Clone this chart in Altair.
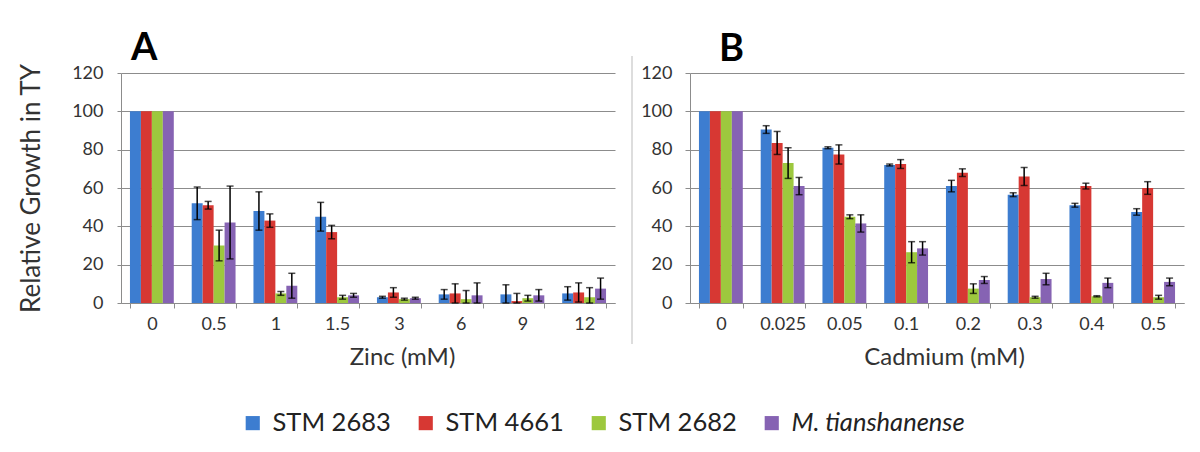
import altair as alt
import pandas as pd

strains = ["STM 2683", "STM 4661", "STM 2682", "M. tianshanense"]
colors = ["#3d7dd0", "#d73833", "#9dc83e", "#8663b3"]

zinc_conc = ["0", "0.5", "1", "1.5", "3", "6", "9", "12"]
zinc_2683 = [100, 52, 48, 45, 3, 4.5, 4.5, 5]
zinc_2683_err = [0, 8.5, 10, 7.5, 0.5, 2.5, 5, 3.5]
zinc_4661 = [100, 51, 43, 37, 5.5, 5, 1, 5.5]
zinc_4661_err = [0, 2, 3.5, 3.5, 2.5, 5, 4, 5]
zinc_2682 = [100, 30, 5, 3, 2, 2, 2.5, 3]
zinc_2682_err = [0, 8, 1, 1, 0.5, 4.5, 1.5, 5]
zinc_mt = [100, 42, 9, 4, 2.5, 4, 4, 7.5]
zinc_mt_err = [0, 19, 6.5, 1, 0.5, 6.5, 3, 5.5]

cd_conc = ["0", "0.025", "0.05", "0.1", "0.2", "0.3", "0.4", "0.5"]
cd_2683 = [100, 90.5, 81, 72, 61, 56.5, 51, 47.5]
cd_2683_err = [0, 2, 0.5, 0.5, 3, 1, 1, 1.7]
cd_4661 = [100, 83.5, 77.5, 72.5, 68, 66, 61, 60]
cd_4661_err = [0, 6, 5, 2.3, 2, 4.7, 1.5, 3.3]
cd_2682 = [100, 73, 45, 26.5, 7.5, 3, 3.5, 3]
cd_2682_err = [0, 8, 1, 5.5, 2.5, 0.5, 0.3, 1]
cd_mt = [100, 61, 41.5, 28.5, 12, 12.5, 10.5, 11]
cd_mt_err = [0, 4.5, 4.5, 3.5, 1.8, 3, 2.5, 2]

FONT = "Lato"
GRAY = "#8c8c8c"
TXT = "#333333"
W = 494
H = 230


def make_df(conc, series, errs):
    rows = []
    for s, vals, es in zip(strains, series, errs):
        for c, v, e in zip(conc, vals, es):
            rows.append({"conc": c, "strain": s, "value": v,
                         "lo": max(v - e, 0), "hi": v + e})
    return pd.DataFrame(rows)


def panel(conc, series, errs, xtitle, xtitle_x, letter, letter_dx, ytitle, ytick):
    df = make_df(conc, series, errs)
    base = alt.Chart(df)
    x = alt.X("conc:N", sort=conc, title=xtitle,
              scale=alt.Scale(paddingInner=0.29, paddingOuter=0.145),
              axis=alt.Axis(labelAngle=0, tickBand="extent", domainColor=GRAY,
                            tickColor=GRAY, tickSize=5, labelPadding=7,
                            labelFontSize=18, labelFont=FONT, labelColor=TXT,
                            titleFontSize=24, titleFont=FONT, titleColor=TXT,
                            titleFontWeight="normal", titlePadding=12,
                            titleX=xtitle_x))
    xo = alt.XOffset("strain:N", sort=strains,
                     scale=alt.Scale(domain=strains, paddingInner=0, paddingOuter=0))
    color = alt.Color("strain:N", sort=strains,
                      scale=alt.Scale(domain=strains, range=colors),
                      legend=alt.Legend(orient="none", legendX=119, legendY=337,
                                        direction="horizontal", title=None,
                                        symbolType="square", symbolSize=200,
                                        symbolStrokeWidth=0, labelFontSize=25.5,
                                        labelFont=FONT, labelColor="#222222",
                                        labelOffset=7, columnPadding=22,
                                        labelLimit=400,
                                        labelFontStyle={"expr": "datum.label == 'M. tianshanense' ? 'italic' : 'normal'"}))
    yaxis = alt.Axis(values=[0, 20, 40, 60, 80, 100, 120], tickCount=7, grid=True,
                     gridColor=GRAY, gridWidth=1, domainColor=GRAY, tickColor=GRAY,
                     tickSize=ytick, labelPadding=18 - ytick, labelFontSize=18,
                     labelFont=FONT, labelColor=TXT, labelOverlap=False,
                     titleFontSize=26, titleFont=FONT, titleColor=TXT,
                     titleFontWeight="normal", titlePadding=27)
    yscale = alt.Scale(domain=[0, 120])
    if ytitle:
        y = alt.Y("value:Q", scale=yscale, axis=yaxis, title=ytitle)
        ylo = alt.Y("lo:Q", scale=yscale, axis=yaxis, title=ytitle)
        yhi = alt.Y("hi:Q", scale=yscale, axis=yaxis, title=ytitle)
    else:
        y = alt.Y("value:Q", scale=yscale, axis=yaxis, title=None)
        ylo = alt.Y("lo:Q", scale=yscale, axis=yaxis, title=None)
        yhi = alt.Y("hi:Q", scale=yscale, axis=yaxis, title=None)
    bars = base.mark_bar().encode(x=x, xOffset=xo, y=y, color=color)
    eb = base.transform_filter("datum.hi > datum.lo")
    rule = eb.mark_rule(color="black", strokeWidth=1.5).encode(
        x=x, xOffset=xo, y=ylo, y2="hi:Q")
    cap_hi = eb.mark_tick(color="black", thickness=1.5, size=7).encode(
        x=x, xOffset=xo, y=yhi)
    cap_lo = eb.mark_tick(color="black", thickness=1.5, size=7).encode(
        x=x, xOffset=xo, y=ylo)
    return alt.layer(bars, rule, cap_hi, cap_lo).properties(
        width=W, height=H,
        title=alt.TitleParams(letter, anchor="start", frame="group", fontSize=38,
                              fontWeight="bold", font=FONT, color="black",
                              dx=letter_dx, offset=-5))


pa = panel(zinc_conc, [zinc_2683, zinc_4661, zinc_2682, zinc_mt],
           [zinc_2683_err, zinc_4661_err, zinc_2682_err, zinc_mt_err],
           "Zinc (mM)", 281, "A", 10, "Relative Growth in TY", 4)
pb = panel(cd_conc, [cd_2683, cd_4661, cd_2682, cd_mt],
           [cd_2683_err, cd_4661_err, cd_2682_err, cd_mt_err],
           "Cadmium (mM)", 254, "B", 29, None, 5)

sep = alt.Chart(pd.DataFrame({"v": [0]})).mark_rule(
    color="#dddddd", strokeWidth=2).encode(
    x=alt.value(12), y=alt.value(-17), y2=alt.value(271)).properties(width=15, height=H)

chart = alt.hconcat(pa, sep, pb, spacing=5).properties(
    padding={"left": 10, "top": 22, "right": 2, "bottom": 2}
).configure_view(stroke=None).resolve_scale(color="shared")

chart.save("out.html", embed_options={"renderer": "svg", "actions": False})
